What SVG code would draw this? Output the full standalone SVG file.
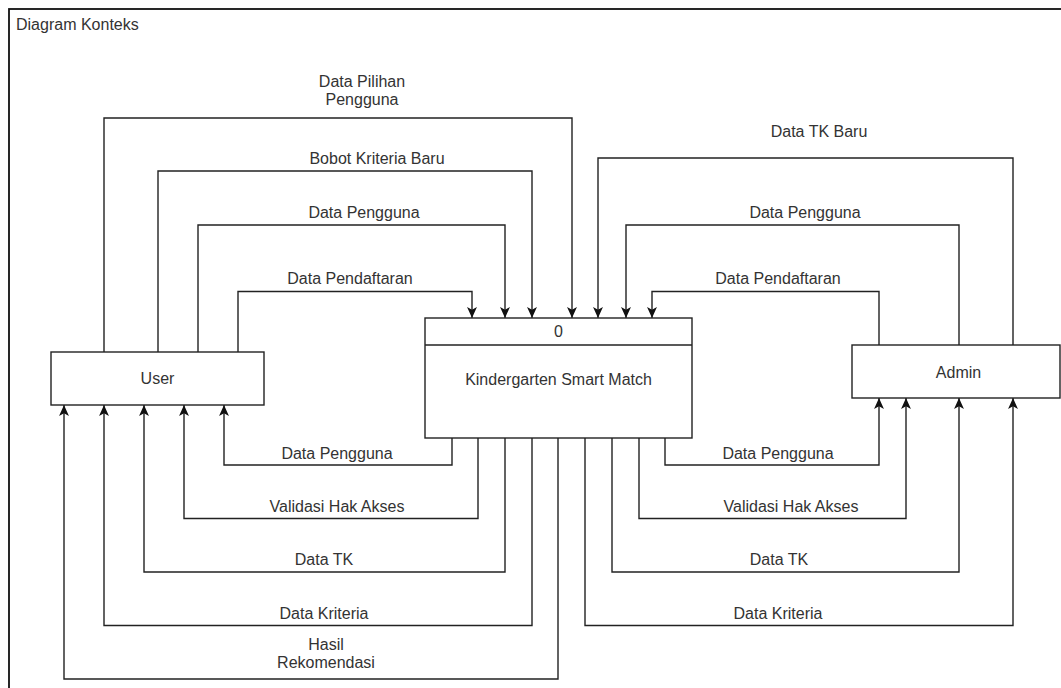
<svg xmlns="http://www.w3.org/2000/svg" width="1061" height="688" viewBox="0 0 1061 688">
  <defs>
    <marker id="arrow" viewBox="0 0 10 10" refX="10" refY="5" markerWidth="11" markerHeight="11" markerUnits="userSpaceOnUse" orient="auto">
      <path d="M0,0.5 L10,5 L0,9.5 L2.5,5 Z" fill="#111111"/>
    </marker>
  </defs>
  <style>
    .frame { fill: none; stroke: #111111; stroke-width: 1.8; }
    .box { fill: #ffffff; stroke: #222222; stroke-width: 1.4; }
    .flow { fill: none; stroke: #222222; stroke-width: 1.4; marker-end: url(#arrow); }
    text { font-family: "Liberation Sans", Arial, sans-serif; font-size: 16px; fill: #333333; }
    .c { text-anchor: middle; }
  </style>

  <rect x="0" y="0" width="1061" height="688" fill="#ffffff"/>

  <!-- outer frame -->
  <g id="frame">
    <rect class="frame" x="9" y="9" width="1090" height="700"/>
    <text x="16" y="30">Diagram Konteks</text>
  </g>

  <!-- data flows -->
  <g id="connectors">
    <!-- User to process -->
    <path class="flow" d="M104,352 V118 H572 V318"/>
    <path class="flow" d="M158,352 V171 H532 V318"/>
    <path class="flow" d="M198,352 V225 H505 V318"/>
    <path class="flow" d="M238,352 V291.5 H472 V318"/>
    <!-- Admin to process -->
    <path class="flow" d="M1013,345 V158 H598 V318"/>
    <path class="flow" d="M959,345 V225 H626 V318"/>
    <path class="flow" d="M879,345 V291.5 H652 V318"/>
    <!-- process to User -->
    <path class="flow" d="M452,438 V465 H224 V405"/>
    <path class="flow" d="M478,438 V518.5 H184 V405"/>
    <path class="flow" d="M505,438 V572 H144 V405"/>
    <path class="flow" d="M532,438 V625.5 H104 V405"/>
    <path class="flow" d="M558,438 V679 H64 V405"/>
    <!-- process to Admin -->
    <path class="flow" d="M665,438 V465 H879 V398"/>
    <path class="flow" d="M639,438 V518.5 H906 V398"/>
    <path class="flow" d="M612,438 V572 H959 V398"/>
    <path class="flow" d="M585,438 V625.5 H1013 V398"/>
  </g>

  <!-- flow labels -->
  <g id="labels">
    <text class="c" x="362" y="87">Data Pilihan</text>
    <text class="c" x="362" y="105">Pengguna</text>
    <text class="c" x="377" y="164">Bobot Kriteria Baru</text>
    <text class="c" x="364" y="217.5">Data Pengguna</text>
    <text class="c" x="350" y="284">Data Pendaftaran</text>

    <text class="c" x="819" y="137">Data TK Baru</text>
    <text class="c" x="805" y="217.5">Data Pengguna</text>
    <text class="c" x="778" y="284">Data Pendaftaran</text>

    <text class="c" x="337" y="458.5">Data Pengguna</text>
    <text class="c" x="337" y="511.5">Validasi Hak Akses</text>
    <text class="c" x="324" y="565">Data TK</text>
    <text class="c" x="324" y="619">Data Kriteria</text>
    <text class="c" x="326" y="650">Hasil</text>
    <text class="c" x="326" y="668">Rekomendasi</text>

    <text class="c" x="778" y="458.5">Data Pengguna</text>
    <text class="c" x="791" y="511.5">Validasi Hak Akses</text>
    <text class="c" x="779" y="565">Data TK</text>
    <text class="c" x="778" y="619">Data Kriteria</text>
  </g>

  <!-- process -->
  <g id="process-0">
    <rect class="box" x="425" y="318" width="267" height="120"/>
    <line x1="425" y1="345" x2="692" y2="345" stroke="#222222" stroke-width="1.4"/>
    <text class="c" x="558.5" y="337">0</text>
    <text class="c" x="558.5" y="385">Kindergarten Smart Match</text>
  </g>

  <!-- external entities -->
  <g id="entity-user">
    <rect class="box" x="51" y="352" width="213" height="53"/>
    <text class="c" x="157.5" y="384">User</text>
  </g>

  <g id="entity-admin">
    <rect class="box" x="852" y="345" width="208" height="53"/>
    <text class="c" x="958.5" y="377.5">Admin</text>
  </g>
</svg>
